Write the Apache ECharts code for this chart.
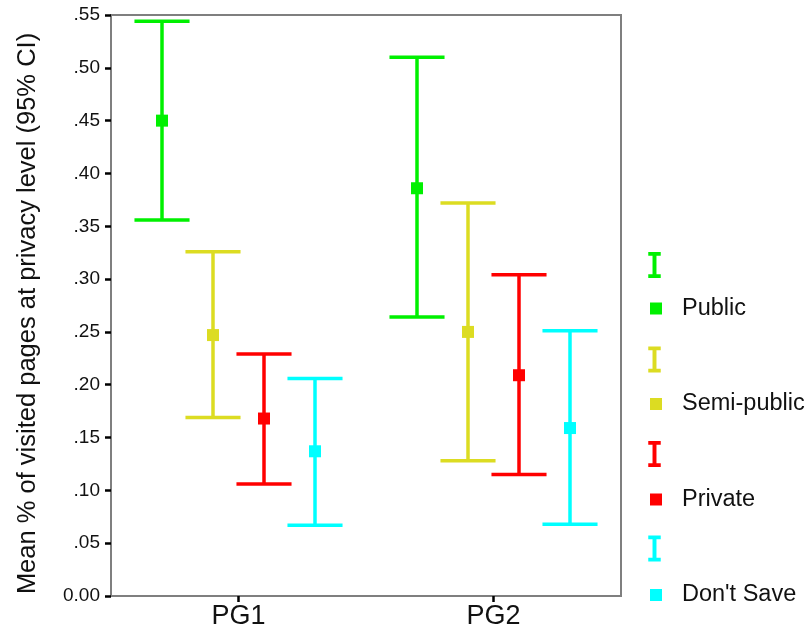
<!DOCTYPE html>
<html>
<head>
<meta charset="utf-8">
<script src="https://cdn.jsdelivr.net/npm/echarts@6/dist/echarts.min.js"></script>
<style>
  html, body { margin: 0; padding: 0; background: #ffffff; }
  #chart { width: 811px; height: 634px; }
</style>
</head>
<body>
<div id="chart"></div>
<script>
// Groups on the x axis
const categories = ['PG1', 'PG2'];

// Privacy levels (one error-bar series + one mean series each)
const levels = ['Public', 'Semi-public', 'Private', "Don't Save"];
const levelColors = ['#00f000', '#dcdc22', '#ff0000', '#00ffff'];

// Mean share of visited pages, per level, for PG1 and PG2
const meanPublic = [0.450, 0.386];
const meanSemi = [0.247, 0.250];
const meanPrivate = [0.168, 0.209];
const meanDontSave = [0.137, 0.159];

// 95% confidence interval bounds
const lowPublic = [0.356, 0.264];
const highPublic = [0.544, 0.510];
const lowSemi = [0.169, 0.128];
const highSemi = [0.326, 0.372];
const lowPrivate = [0.106, 0.115];
const highPrivate = [0.229, 0.304];
const lowDontSave = [0.067, 0.068];
const highDontSave = [0.206, 0.251];

// Y axis ticks
const yMin = 0;
const yMax = 0.55;
const yStep = 0.05;

const means = [meanPublic, meanSemi, meanPrivate, meanDontSave];
const lows = [lowPublic, lowSemi, lowPrivate, lowDontSave];
const highs = [highPublic, highSemi, highPrivate, highDontSave];

// Horizontal placement of each level inside a category band (fraction of band width)
const bandOffsets = [-0.3, -0.1, 0.1, 0.3];
const capHalfWidth = 0.108;
const barLineWidth = 3.5;
const markerSize = 12;

const FONT = "'Liberation Sans', Arial, sans-serif";

function ciSeries(idx) {
  const color = levelColors[idx];
  return {
    name: levels[idx] + ' CI',
    type: 'custom',
    data: categories.map((c, i) => [i, lows[idx][i], highs[idx][i]]),
    encode: { x: 0, y: [1, 2] },
    renderItem: function (params, api) {
      const cat = api.value(0);
      const lo = api.coord([cat, api.value(1)]);
      const hi = api.coord([cat, api.value(2)]);
      const band = api.size([1, 0])[0];
      const x = lo[0] + band * bandOffsets[idx];
      const hw = band * capHalfWidth;
      const style = { stroke: color, lineWidth: barLineWidth, fill: null };
      return {
        type: 'group',
        children: [
          { type: 'line', shape: { x1: x, y1: lo[1], x2: x, y2: hi[1] }, style: style },
          { type: 'line', shape: { x1: x - hw, y1: hi[1], x2: x + hw, y2: hi[1] }, style: style },
          { type: 'line', shape: { x1: x - hw, y1: lo[1], x2: x + hw, y2: lo[1] }, style: style }
        ]
      };
    },
    z: 2
  };
}

function meanSeries(idx) {
  const color = levelColors[idx];
  return {
    name: levels[idx],
    type: 'custom',
    data: categories.map((c, i) => [i, means[idx][i]]),
    encode: { x: 0, y: 1 },
    renderItem: function (params, api) {
      const pt = api.coord([api.value(0), api.value(1)]);
      const band = api.size([1, 0])[0];
      const x = pt[0] + band * bandOffsets[idx];
      return {
        type: 'rect',
        shape: { x: x - markerSize / 2, y: pt[1] - markerSize / 2, width: markerSize, height: markerSize },
        style: { fill: color }
      };
    },
    z: 3
  };
}

const series = [];
levels.forEach((l, i) => series.push(ciSeries(i)));
levels.forEach((l, i) => series.push(meanSeries(i)));

// I-beam legend icon for the confidence-interval series
const ibeam = 'path://M0,0H12V3.5H7.9V21.5H12V25H0V21.5H4.1V3.5H0Z';

const option = {
  backgroundColor: '#ffffff',
  animation: false,
  color: levelColors,
  grid: {
    left: 111, top: 15, right: 190, bottom: 38,
    show: true, borderColor: '#7f7f7f', borderWidth: 2, backgroundColor: '#ffffff'
  },
  legend: [
    {
      orient: 'vertical',
      left: 643,
      top: 247,
      itemWidth: 13,
      itemHeight: 26,
      itemGap: 68.5,
      selectedMode: false,
      formatter: function () { return ''; },
      textStyle: { fontSize: 8 },
      data: levels.map((l, i) => ({ name: l + ' CI', icon: ibeam, itemStyle: { color: levelColors[i] } }))
    },
    {
      orient: 'vertical',
      left: 645,
      top: 291.5,
      itemWidth: 12,
      itemHeight: 12,
      itemGap: 71.5,
      selectedMode: false,
      textStyle: { fontFamily: FONT, fontSize: 23.5, color: '#111111', padding: [0, 0, 0, 15] },
      data: levels.map((l, i) => ({ name: l, icon: 'rect', itemStyle: { color: levelColors[i] } }))
    }
  ],
  xAxis: {
    type: 'category',
    data: categories,
    boundaryGap: true,
    axisLine: { show: true, lineStyle: { color: '#7f7f7f', width: 2 } },
    axisTick: { show: true, alignWithLabel: true, length: 6, lineStyle: { color: '#000000', width: 2.5 } },
    axisLabel: { fontFamily: FONT, fontSize: 27, color: '#111111', margin: 7 },
    splitLine: { show: false }
  },
  yAxis: {
    type: 'value',
    min: yMin,
    max: yMax,
    interval: yStep,
    name: 'Mean % of visited pages at privacy level (95% CI)',
    nameLocation: 'middle',
    nameGap: 70,
    nameTextStyle: { fontFamily: FONT, fontSize: 25.5, color: '#111111', padding: [0, 16, 0, 0] },
    axisLine: { show: true, lineStyle: { color: '#7f7f7f', width: 2 } },
    axisTick: { show: true, length: 6, lineStyle: { color: '#000000', width: 2.5 } },
    axisLabel: {
      fontFamily: FONT, fontSize: 19, color: '#111111', margin: 11,
      formatter: function (v) {
        return v === 0 ? '0.00' : v.toFixed(2).replace(/^0/, '');
      }
    },
    splitLine: { show: false }
  },
  series: series
};

const chart = echarts.init(document.getElementById('chart'), null, { renderer: 'canvas' });
chart.setOption(option);
</script>
</body>
</html>
